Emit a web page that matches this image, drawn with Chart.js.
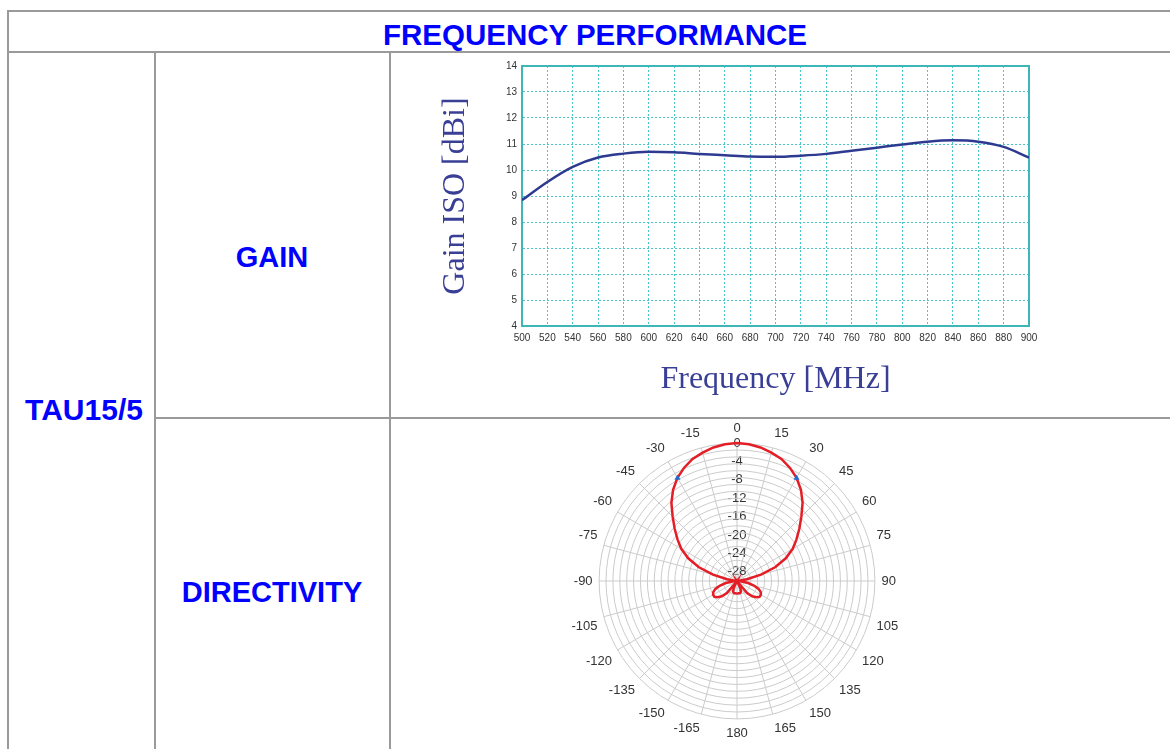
<!DOCTYPE html>
<html><head><meta charset="utf-8">
<script src="https://cdn.jsdelivr.net/npm/chart.js@4.4.1/dist/chart.umd.min.js"></script>
<style>
html,body{margin:0;padding:0;background:#fff;}
body{width:1170px;height:749px;overflow:hidden;position:relative;font-family:"Liberation Sans",Arial,sans-serif;}
.b{position:absolute;background:#9a9a9a;}
.t{position:absolute;color:#0000ff;font-weight:bold;font-size:29px;white-space:nowrap;transform:translate(-50%,-50%);line-height:1;}
canvas{position:absolute;}
</style></head><body>
<div class="b" style="left:7px;top:10px;width:1170px;height:2px"></div>
<div class="b" style="left:7px;top:51px;width:1170px;height:2px"></div>
<div class="b" style="left:7px;top:10px;width:2px;height:760px"></div>
<div class="b" style="left:154px;top:51px;width:2px;height:760px"></div>
<div class="b" style="left:389px;top:51px;width:2px;height:760px"></div>
<div class="b" style="left:154px;top:417px;width:1020px;height:2px"></div>
<div class="t" style="left:595px;top:35px;font-size:29.5px">FREQUENCY PERFORMANCE</div>
<div class="t" style="left:272px;top:257px">GAIN</div>
<div class="t" style="left:272px;top:592px">DIRECTIVITY</div>
<div class="t" style="left:84px;top:410px;font-size:30px">TAU15/5</div>
<canvas id="gain" width="780" height="366" style="left:390px;top:52px"></canvas>
<canvas id="polar" width="340" height="321" style="left:565px;top:421px"></canvas>
<script>
// ---- Gain vs frequency ----
const freqs = [500,520,540,560,580,600,620,640,660,680,700,720,740,760,780,800,820,840,860,880,900];
const gains = [8.84,9.54,10.12,10.48,10.63,10.70,10.68,10.62,10.57,10.52,10.51,10.55,10.62,10.74,10.86,10.98,11.09,11.14,11.09,10.89,10.48];
const gainTitleY = 'Gain ISO [dBi]';
const gainTitleX = 'Frequency [MHz]';

// ---- Directivity pattern (angle in degrees clockwise from 0, value in dB) ----
const polarAngles = [0,5,10,15,20,25,30,35,40,45,50,55,60,65,70,75,80,85,90,95,100,105,110,115,120,125,130,135,140,145,150,155,160,165,170,175,180,
  -175,-170,-165,-160,-155,-150,-145,-140,-135,-130,-125,-120,-115,-110,-105,-100,-95,-90,-85,-80,-75,-70,-65,-60,-55,-50,-45,-40,-35,-30,-25,-20,-15,-10,-5];
const patternDb = [0,-0.12,-0.5,-1.1,-1.75,-2.8,-4.1,-5.75,-7.8,-10.2,-12.3,-14.2,-16.0,-18.3,-21.1,-24.6,-27.8,-29.5,-30,-29.2,-27.5,-26.2,-25.0,-24.3,-24.0,-24.0,-24.5,-25.3,-26.6,-30,-30,-28.3,-27.5,-27.3,-27.3,-27.3,-27.3,
  -27.3,-27.3,-27.3,-27.5,-28.3,-30,-30,-26.6,-25.3,-24.5,-24.0,-24.0,-24.3,-25.0,-26.2,-27.5,-29.2,-30,-29.5,-27.8,-24.6,-21.1,-18.3,-16.0,-14.2,-12.3,-10.2,-7.8,-5.75,-4.1,-2.8,-1.75,-1.1,-0.5,-0.12];
const markerAngles = [30,-30];
const markerDb = [-4.1,-4.1];
// grid circles of the polar plot (dB levels), outer circle is the scale maximum
const ringLevels = [-28.5,-27,-25.5,-24,-22.5,-21,-19.5,-18,-16.5,-15,-13.5,-12,-10.5,-9,-7.5,-6,-4.5,-3,-1.5];
const radialMin = -30, radialMax = 0, radialTickStep = 2, labelStep = 4, spokeStep = 15;

Chart.defaults.font.family = '"Liberation Sans", Arial, sans-serif';

const teal = '#3fb6b6';
const gridCyan = '#48c8c8';
const serif = '"Liberation Serif", "Times New Roman", serif';
new Chart(document.getElementById('gain'), {
  type: 'line',
  data: { datasets: [{
    data: freqs.map((f, i) => ({x: f, y: gains[i]})),
    borderColor: '#2e3a90', borderWidth: 2.5, pointRadius: 0,
    cubicInterpolationMode: 'monotone', fill: false,
    xAxisID: 'x', yAxisID: 'y'
  }]},
  options: {
    responsive: false, animation: false, devicePixelRatio: 1,
    layout: { padding: { top: 14, right: 141, left: 0, bottom: 0 } },
    plugins: { legend: { display: false }, tooltip: { enabled: false } },
    scales: {
      x: {
        type: 'linear', position: 'bottom', min: 500, max: 900,
        ticks: { stepSize: 20, autoSkip: false, maxRotation: 0, color: '#333', font: { size: 10 }, padding: 6 },
        grid: { color: gridCyan, lineWidth: 1, drawTicks: false },
        border: { display: true, color: teal, width: 2, dash: [2, 2] },
        title: { display: true, text: gainTitleX, color: '#3a3f96',
          font: { family: serif, size: 32 }, padding: { top: 0, bottom: 19 } },
        afterFit(s) { s.height = 92; }
      },
      y: {
        type: 'linear', position: 'left', min: 4, max: 14,
        ticks: { stepSize: 1, color: '#333', font: { size: 10 }, padding: 5 },
        grid: { color: gridCyan, lineWidth: 1, drawTicks: false },
        border: { display: true, color: teal, width: 2, dash: [2, 2] },
        title: { display: true, text: gainTitleY, color: '#3a3f96',
          font: { family: serif, size: 32 }, padding: { top: 46, bottom: 0 } },
        afterFit(s) { s.width = 132; }
      },
      x2: {
        type: 'linear', position: 'top', min: 500, max: 900,
        ticks: { display: false }, grid: { display: false, drawTicks: false },
        border: { display: true, color: teal, width: 2 }
      },
      y2: {
        type: 'linear', position: 'right', min: 4, max: 14,
        ticks: { display: false }, grid: { display: false, drawTicks: false },
        border: { display: true, color: teal, width: 2 }
      }
    }
  }
});

const isMult = (v, s) => Math.abs(v / s - Math.round(v / s)) < 1e-6;
const markerData = polarAngles.map(a => { const k = markerAngles.indexOf(a); return k >= 0 ? markerDb[k] : null; });
const ringColor = '#cbcbcb';
const ringSets = ringLevels.map(L => ({
  data: polarAngles.map(() => L), borderColor: ringColor, borderWidth: 1,
  pointRadius: 0, fill: false, tension: 0, order: 10
}));

new Chart(document.getElementById('polar'), {
  type: 'radar',
  data: {
    labels: polarAngles,
    datasets: [
      ...ringSets,
      { data: patternDb, borderColor: '#e41e26', borderWidth: 2.5, pointRadius: 0, fill: false, tension: 0, order: 1 },
      { data: markerData, showLine: false, pointStyle: 'triangle', pointRadius: 3.5, order: 0,
        pointBackgroundColor: '#1f6fd0', pointBorderColor: '#1f6fd0', pointBorderWidth: 0 }
    ]
  },
  options: {
    responsive: false, animation: false, devicePixelRatio: 1,
    plugins: { legend: { display: false }, tooltip: { enabled: false } },
    layout: { padding: 0 },
    scales: {
      r: {
        min: radialMin, max: radialMax, startAngle: 0,
        ticks: {
          stepSize: radialTickStep, showLabelBackdrop: false, backdropPadding: 0, color: '#333', font: { size: 13 },
          callback: v => (isMult(v, labelStep) && v > radialMin) ? String(Math.round(v)) : ''
        },
        grid: { circular: true, color: ringColor,
          lineWidth: ctx => (ctx.tick && ctx.tick.value === radialMax) ? 1 : 0 },
        angleLines: { display: true, color: ringColor,
          lineWidth: ctx => isMult(polarAngles[ctx.index], spokeStep) ? 1 : 0 },
        pointLabels: { color: '#333', font: { size: 13 }, padding: 0,
          callback: (l, i) => isMult(polarAngles[i], spokeStep) ? String(l) : '' }
      }
    }
  }
});
</script>
</body></html>
